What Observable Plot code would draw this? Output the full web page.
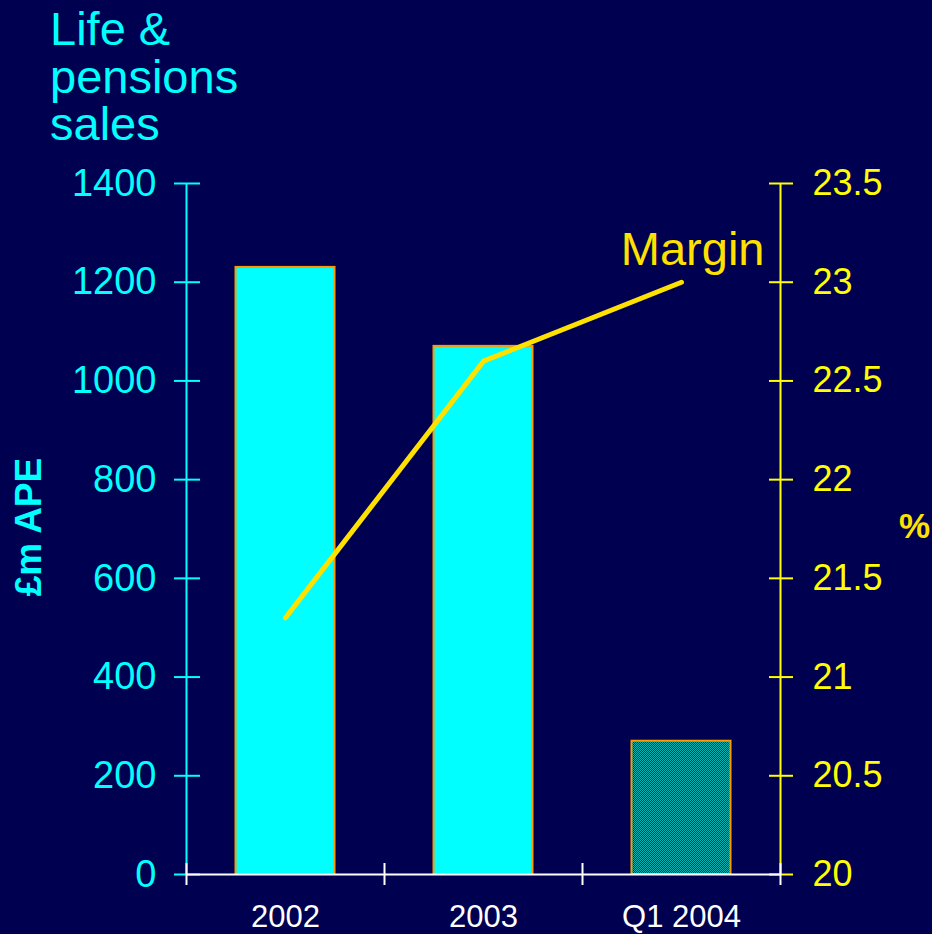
<!DOCTYPE html>
<html><head><meta charset="utf-8">
<script src="https://cdn.jsdelivr.net/npm/d3@7"></script>
<script src="https://cdn.jsdelivr.net/npm/@observablehq/plot@0.6"></script>
<style>
body{margin:0;background:#000050;font-family:"Liberation Sans",Arial,sans-serif;}
#wrap{position:relative;width:932px;height:934px;overflow:hidden;}
#wrap svg{position:absolute;left:0;top:0;}
#title{position:absolute;left:50px;top:5px;color:#00ffff;font-size:47px;line-height:47.5px;z-index:2;}
</style></head><body>
<div id="wrap"><div id="title">Life &amp;<br>pensions<br>sales</div></div>
<script>
const categories = ["2002", "2003", "Q1 2004"];
const salesAPE = [1230, 1070, 270];
const marginPct = [21.3, 22.6, 23.0];
const partialYear = [false, false, true];
const salesTicks = [0, 200, 400, 600, 800, 1000, 1200, 1400];
const marginTicks = [20, 20.5, 21, 21.5, 22, 22.5, 23, 23.5];
const leftLabel = "£m APE";
const rightLabel = "%";
const lineLabel = "Margin";

const CYAN = "#00ffff", YEL = "#ffff00", GOLD = "#ffe100", ORANGE = "#ff9900";
const m2y = d3.scaleLinear([20, 23.5], [0, 1400]);
const data = categories.map((c, i) => ({c, i, sales: salesAPE[i], margin: marginPct[i], partial: partialYear[i]}));

const chart = Plot.plot({
  width: 932, height: 934,
  marginTop: 183, marginBottom: 60, marginLeft: 186, marginRight: 152,
  style: {background: "transparent", fontFamily: "Liberation Sans, Arial, sans-serif"},
  x: {domain: [0, 3], axis: null},
  y: {domain: [0, 1400], axis: null},
  marks: [
    Plot.rectY(data, {x1: d => d.i + 0.25, x2: d => d.i + 0.75, y1: 0, y2: "sales",
      fill: d => d.partial ? "url(#hatch)" : CYAN, stroke: ORANGE, strokeWidth: 2}),
    Plot.ruleX([0], {stroke: CYAN, strokeWidth: 2}),
    Plot.ruleX([3], {stroke: YEL, strokeWidth: 2}),
    Plot.axisY(salesTicks, {anchor: "left", tickSize: 12, tickPadding: 18, color: CYAN, fontSize: 38, strokeWidth: 2, label: null,
      tickFormat: v => String(v)}),
    Plot.axisY(salesTicks, {anchor: "left", tickSize: -14, tickFormat: () => "", color: CYAN, strokeWidth: 2, label: null}),
    Plot.axisY(marginTicks.map(m2y), {anchor: "right", tickSize: 12, tickPadding: 20, color: YEL, fontSize: 36, strokeWidth: 2, label: null,
      tickFormat: v => String(+m2y.invert(v).toFixed(2))}),
    Plot.axisY(marginTicks.map(m2y), {anchor: "right", tickSize: -12, tickFormat: () => "", color: YEL, strokeWidth: 2, label: null}),
    Plot.ruleY([0], {stroke: "white", strokeWidth: 2}),
    Plot.axisX([0, 1, 2, 3], {anchor: "bottom", tickSize: 11, tickFormat: () => "", color: "white", strokeWidth: 2, label: null}),
    Plot.axisX([0, 1, 2, 3], {anchor: "bottom", tickSize: -11, tickFormat: () => "", color: "white", strokeWidth: 2, label: null}),
    Plot.axisX([0.5, 1.5, 2.5], {anchor: "bottom", tickSize: 0, tickPadding: 30, color: "white", fontSize: 31, label: null,
      tickFormat: v => categories[Math.floor(v)]}),
    Plot.line(data, {x: d => d.i + 0.5, y: d => m2y(d.margin), stroke: GOLD, strokeWidth: 5}),
    Plot.text([data[data.length - 1]], {x: d => d.i + 0.5, y: d => m2y(d.margin), text: () => lineLabel,
      textAnchor: "end", dx: 83, dy: -32, fontSize: 47, fill: GOLD}),
    Plot.text([leftLabel], {frameAnchor: "left", textAnchor: "middle", dx: -157, dy: -2, rotate: -90, fontSize: 37, fontWeight: "bold", fill: CYAN}),
    Plot.text([rightLabel], {frameAnchor: "right", textAnchor: "middle", dx: 134, dy: -2, fontSize: 35, fontWeight: "bold", fill: GOLD})
  ]
});

d3.select(chart).insert("defs", ":first-child").html(
  '<pattern id="hatch" width="2" height="2" patternUnits="userSpaceOnUse">' +
  '<rect width="2" height="2" fill="#003050"/>' +
  '<rect width="1" height="1" fill="#00b8b8"/>' +
  '<rect x="1" y="1" width="1" height="1" fill="#00b8b8"/></pattern>');
document.getElementById("wrap").appendChild(chart);
</script>
</body></html>
